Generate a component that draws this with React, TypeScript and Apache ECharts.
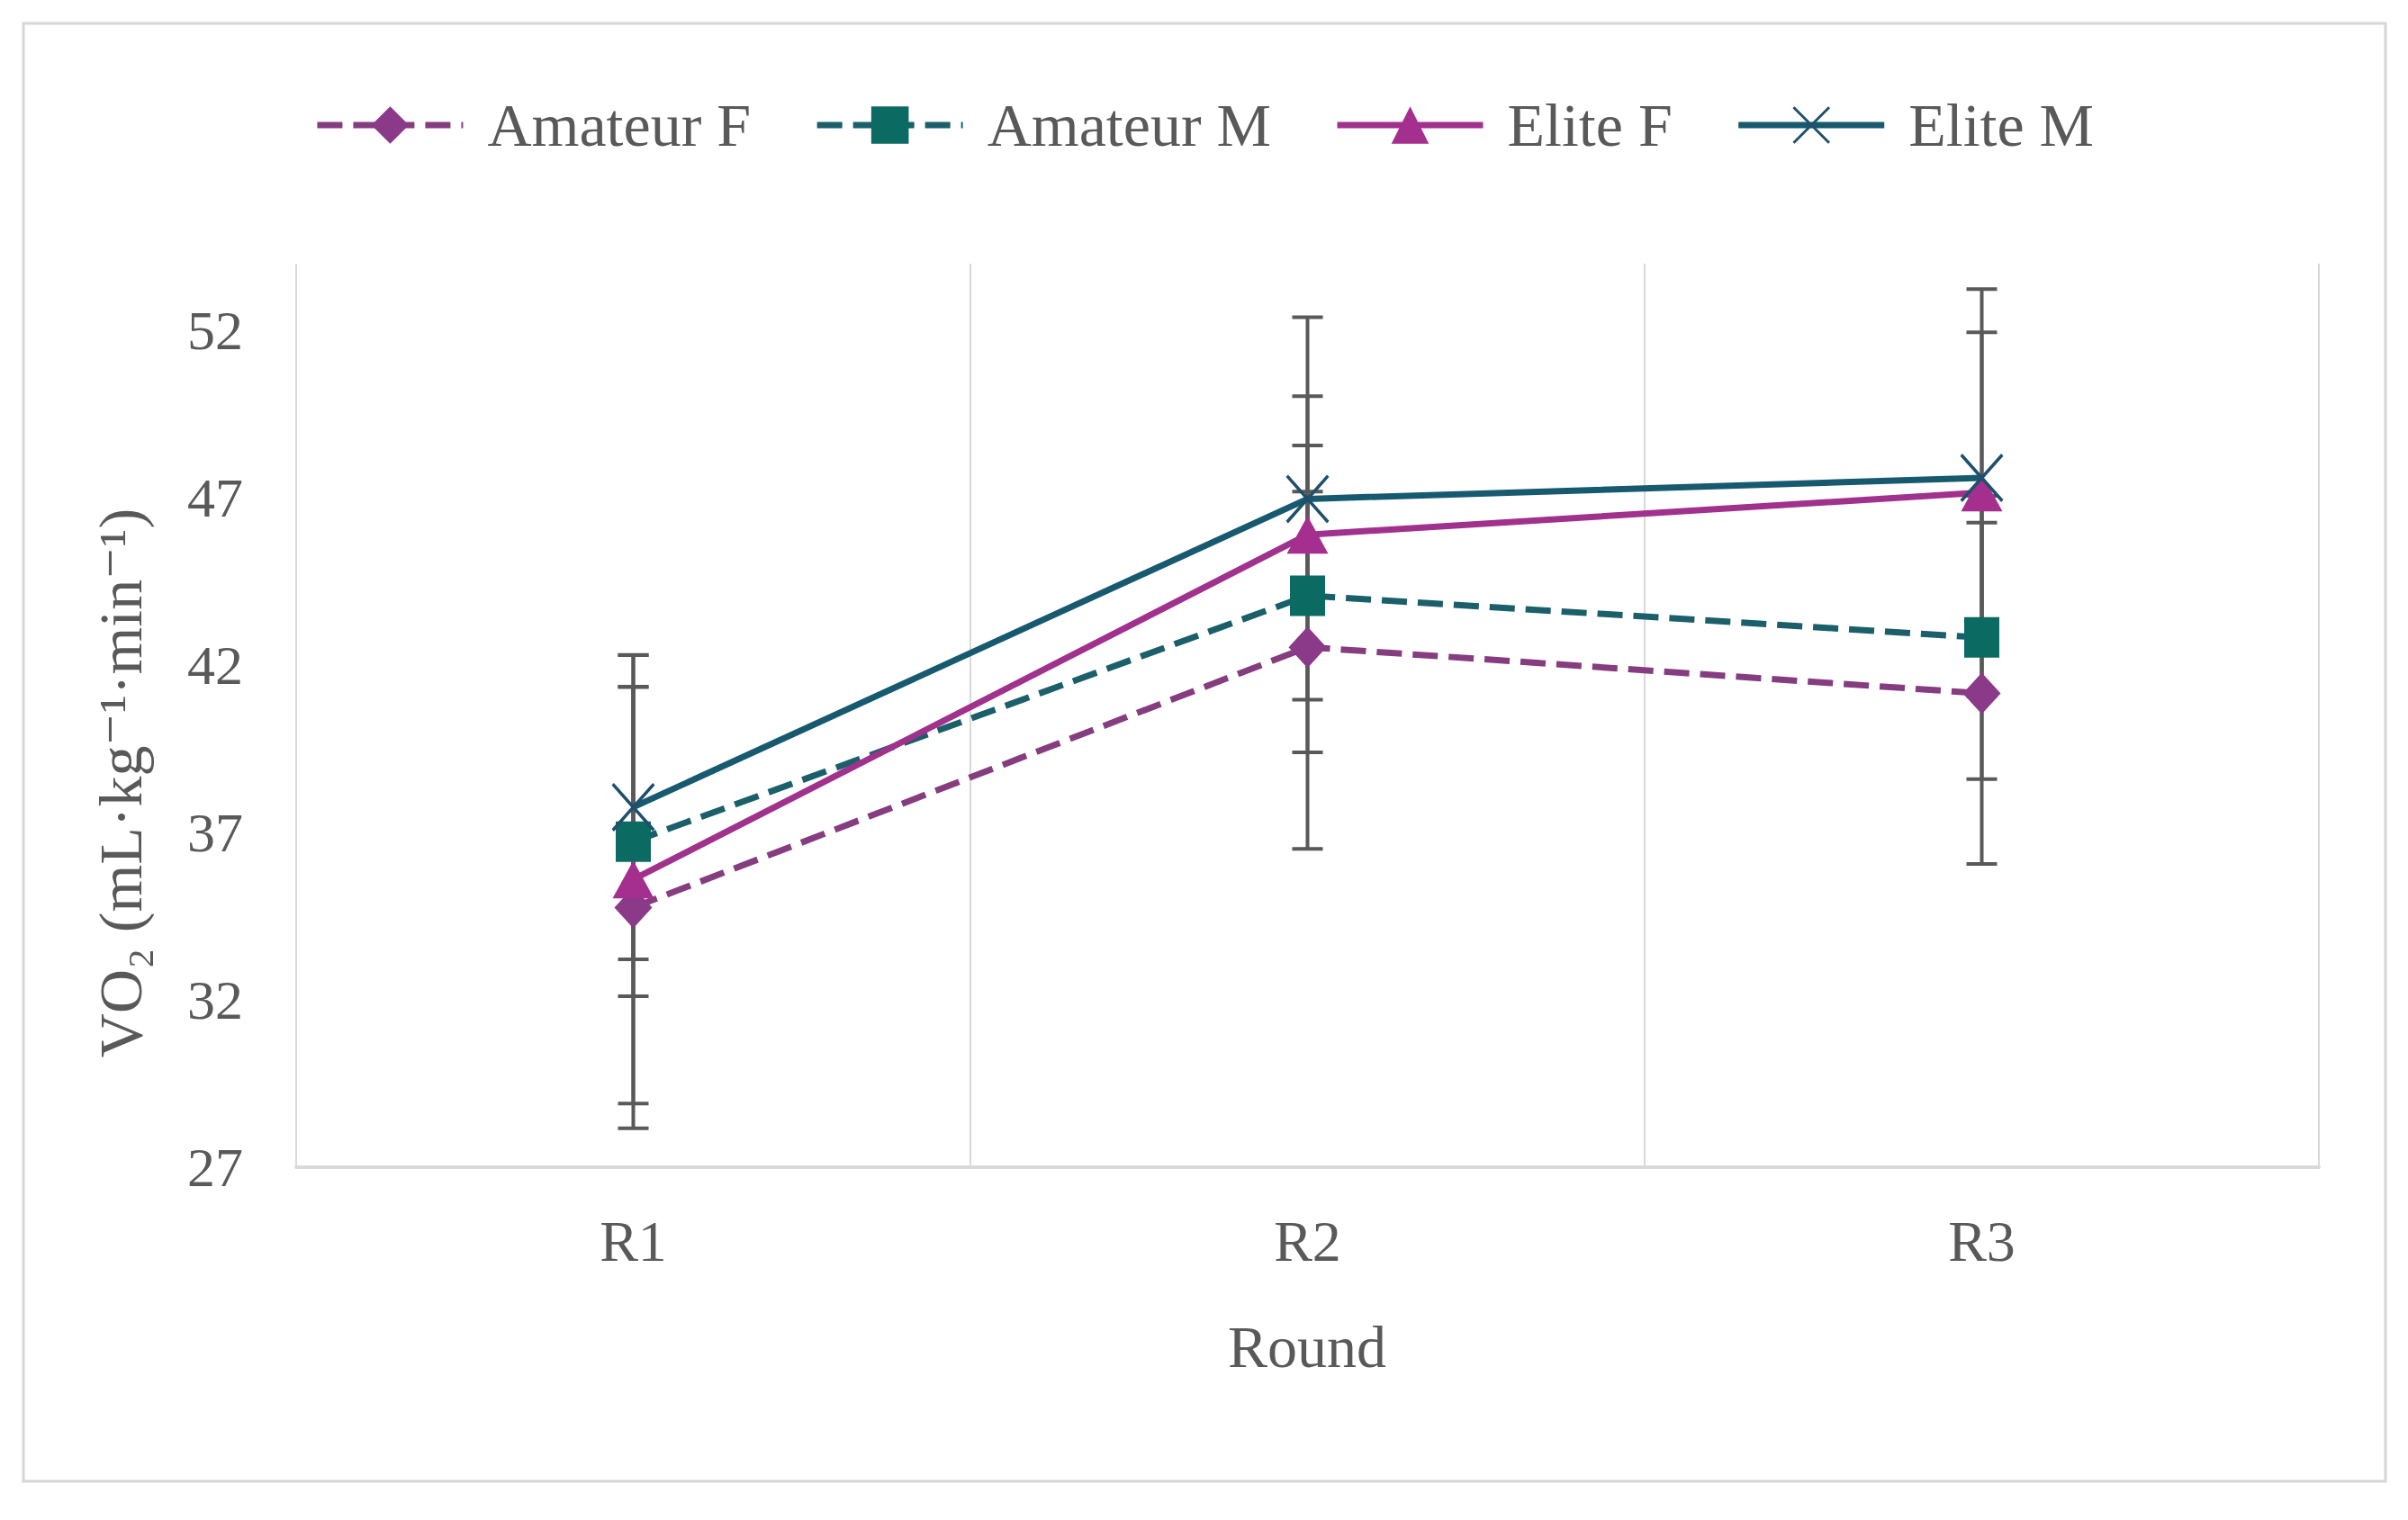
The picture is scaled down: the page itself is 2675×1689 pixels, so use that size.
import React, { useEffect, useRef } from 'react';
import * as echarts from 'echarts';

const categories = ['R1', 'R2', 'R3'];
const seriesNames = ['Amateur F', 'Amateur M', 'Elite F', 'Elite M'];

const amateurFMean = [34.76, 42.54, 41.16];
const amateurFSd = [6.6, 6.03, 5.1];
const amateurMMean = [36.73, 44.08, 42.83];
const amateurMSd = [4.62, 3.11, 4.23];
const eliteFMean = [35.6, 45.9, 47.16];
const eliteFSd = [6.7, 6.5, 6.08];
const eliteMMean = [37.76, 46.97, 47.6];
const eliteMSd = [4.55, 3.07, 4.35];

const yTickLabels = [27, 32, 37, 42, 47, 52];

const FONT = "'Liberation Serif', 'DejaVu Serif', serif";
const TEXT = '#595959';

const X_SYMBOL =
  'path://M0,1 L1,0 L10,9 L19,0 L20,1 L11,10 L20,19 L19,20 L10,11 L1,20 L0,19 L9,10 Z';

export default function App() {
  const ref = useRef<HTMLDivElement>(null);

  useEffect(() => {
    if (!ref.current) return;
    const chart = echarts.init(ref.current, undefined, { renderer: 'svg' });

    const means = [amateurFMean, amateurMMean, eliteFMean, eliteMMean];
    const sds = [amateurFSd, amateurMSd, eliteFSd, eliteMSd];
    const errData: number[][] = [];
    means.forEach((m, s) => {
      m.forEach((v, i) => errData.push([i, v, sds[s][i]]));
    });

    const styles = [
      { color: '#8a3a88', line: '#853d80', symbol: 'diamond', size: [42, 46], type: [28, 12] },
      { color: '#0b6a62', line: '#1b5f6a', symbol: 'rect', size: [39, 45], type: [28, 12] },
      { color: '#a52f8f', line: '#a0318c', symbol: 'triangle', size: [46, 42], type: 'solid' },
      { color: '#1f4f6c', line: '#17596f', symbol: X_SYMBOL, size: [48, 54], type: 'solid' },
    ];

    const lineSeries = seriesNames.map((name, s) => ({
      name,
      type: 'line',
      data: means[s],
      z: 3 + s,
      symbol: styles[s].symbol,
      symbolSize: styles[s].size,
      showAllSymbol: true,
      lineStyle: { color: styles[s].line, width: 7, type: styles[s].type as any },
      itemStyle: { color: styles[s].color },
    }));

    chart.setOption({
      animation: false,
      backgroundColor: '#ffffff',
      grid: { left: 329, right: 99, top: 293, bottom: 392, containLabel: false },
      legend: {
        data: seriesNames,
        top: 100,
        left: 'center',
        itemWidth: 162,
        itemHeight: 52,
        itemGap: 70,
        lineStyle: { width: 7 },
        textStyle: { fontSize: 68, color: TEXT, fontFamily: FONT, padding: [0, 0, 0, 22] },
      },
      xAxis: {
        type: 'category',
        data: categories,
        boundaryGap: true,
        axisLine: { show: true, lineStyle: { color: '#d9d9d9', width: 4 } },
        axisTick: { show: false },
        axisLabel: { fontSize: 64, color: TEXT, fontFamily: FONT, margin: 50 },
        splitLine: { show: true, lineStyle: { color: '#d9d9d9', width: 2 } },
      },
      yAxis: {
        type: 'value',
        min: 27,
        max: 54,
        interval: 1,
        axisLine: { show: false },
        axisTick: { show: false },
        splitLine: { show: false },
        axisLabel: {
          fontSize: 62,
          color: TEXT,
          fontFamily: FONT,
          margin: 59,
          formatter: (v: number) => (yTickLabels.includes(Math.round(v)) && Math.abs(v - Math.round(v)) < 1e-6 ? String(Math.round(v)) : ''),
        },
      },
      graphic: [
        {
          type: 'rect',
          shape: { x: 26, y: 26, width: 2624, height: 1620 },
          style: { fill: 'none', stroke: '#d6d6d6', lineWidth: 3 },
          silent: true,
          z: -1,
        },
        {
          type: 'text',
          x: 1452,
          y: 1496,
          style: {
            text: 'Round',
            fontSize: 66,
            fontFamily: FONT,
            fill: TEXT,
            textAlign: 'center',
            textVerticalAlign: 'middle',
          },
        },
        {
          type: 'text',
          x: 134,
          y: 870,
          rotation: Math.PI / 2,
          style: {
            text: 'VO\u2082 (mL\u00B7kg\u207B\u00B9\u00B7min\u207B\u00B9)',
            fontSize: 68,
            fontFamily: FONT,
            fill: TEXT,
            textAlign: 'center',
            textVerticalAlign: 'middle',
          },
        },
      ],
      series: [
        {
          type: 'custom',
          name: 'errors',
          z: 1,
          encode: { x: 0, y: 1 },
          data: errData,
          renderItem: (params: any, api: any) => {
            const idx = api.value(0);
            const m = api.value(1);
            const sd = api.value(2);
            const top = api.coord([idx, m + sd]);
            const bot = api.coord([idx, m - sd]);
            const half = 17;
            const st = { stroke: '#595959', lineWidth: 4 };
            return {
              type: 'group',
              children: [
                { type: 'line', shape: { x1: top[0], y1: top[1], x2: bot[0], y2: bot[1] }, style: st },
                { type: 'line', shape: { x1: top[0] - half, y1: top[1], x2: top[0] + half, y2: top[1] }, style: st },
                { type: 'line', shape: { x1: bot[0] - half, y1: bot[1], x2: bot[0] + half, y2: bot[1] }, style: st },
              ],
            };
          },
        },
        ...lineSeries,
      ],
    });

    return () => chart.dispose();
  }, []);

  return (
    <div
      ref={ref}
      style={{ position: 'fixed', left: 0, top: 0, width: 2675, height: 1689, background: '#fff' }}
    />
  );
}
